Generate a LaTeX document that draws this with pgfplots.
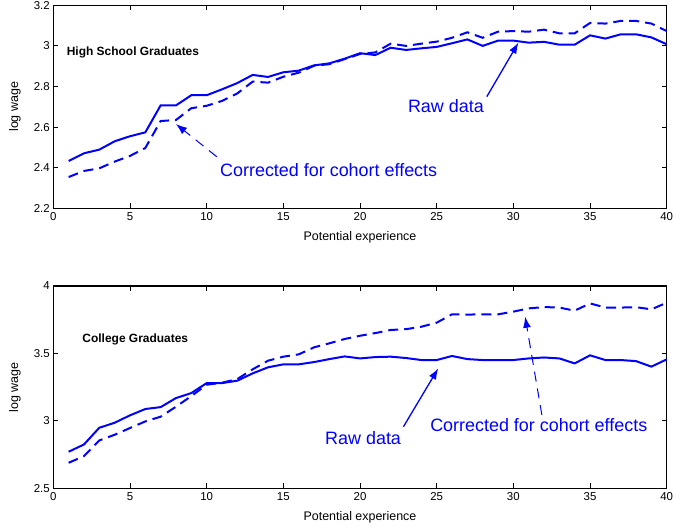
\documentclass[border=0pt]{standalone}
\usepackage{pgfplots}
\pgfplotsset{compat=1.18}
\usepackage{fontspec}
\setmainfont{Liberation Sans}
\usetikzlibrary{arrows.meta}
\definecolor{mblue}{RGB}{0,0,255}

\pgfplotstableread{
x raw corr
1 2.433 2.354
2 2.471 2.384
3 2.489 2.397
4 2.530 2.430
5 2.555 2.458
6 2.574 2.497
7 2.707 2.630
8 2.707 2.635
9 2.757 2.693
10 2.757 2.705
11 2.786 2.729
12 2.817 2.766
13 2.857 2.824
14 2.847 2.819
15 2.870 2.848
16 2.878 2.868
17 2.904 2.902
18 2.914 2.910
19 2.937 2.935
20 2.964 2.960
21 2.955 2.968
22 2.991 3.011
23 2.980 3.000
24 2.988 3.011
25 2.995 3.021
26 3.013 3.040
27 3.032 3.067
28 3.000 3.040
29 3.026 3.070
30 3.026 3.073
31 3.016 3.070
32 3.020 3.080
33 3.006 3.062
34 3.006 3.062
35 3.052 3.113
36 3.036 3.110
37 3.057 3.123
38 3.057 3.123
39 3.042 3.110
40 3.008 3.073
}\hs

\pgfplotstableread{
x raw corr
1 2.771 2.689
2 2.825 2.739
3 2.949 2.855
4 2.986 2.897
5 3.041 2.947
6 3.088 2.996
7 3.102 3.031
8 3.169 3.105
9 3.206 3.184
10 3.280 3.268
11 3.280 3.283
12 3.298 3.310
13 3.352 3.382
14 3.397 3.446
15 3.419 3.476
16 3.419 3.493
17 3.436 3.545
18 3.458 3.575
19 3.478 3.607
20 3.463 3.631
21 3.473 3.651
22 3.476 3.674
23 3.466 3.680
24 3.451 3.698
25 3.451 3.728
26 3.481 3.790
27 3.458 3.788
28 3.451 3.790
29 3.451 3.790
30 3.451 3.810
31 3.463 3.834
32 3.470 3.844
33 3.463 3.840
34 3.426 3.817
35 3.486 3.871
36 3.451 3.840
37 3.451 3.840
38 3.443 3.843
39 3.402 3.827
40 3.456 3.876
}\col

\tikzset{
  rawline/.style={mblue, line width=2bp},
  corrline/.style={mblue, line width=2bp, dash pattern=on 10bp off 6bp},
  anno/.style={font=\fontsize{18}{20}\selectfont, text=mblue, inner sep=0pt},
  ttl/.style={font=\fontsize{12}{14}\selectfont\bfseries, text=black, inner sep=0pt},
  arr/.style={mblue, line width=1.3bp, -{Latex[length=11bp,width=8bp]}},
  darr/.style={mblue, line width=1bp, dash pattern=on 10bp off 7bp, -{Latex[length=11bp,width=8bp]}},
}

\pgfplotsset{
  myaxis/.style={
    scale only axis,
    width=613.4bp,
    xmin=0, xmax=40,
    xtick={0,5,...,40},
    tick align=inside,
    tick pos=both,
    major tick length=5bp,
    axis line style={line width=1.1bp},
    every tick/.style={black, line width=0.8bp},
    /pgf/number format/assume math mode=true,
    tick label style={font=\fontsize{11.5}{13}\selectfont},
    xlabel={Potential experience},
    ylabel={log wage},
    every axis x label/.style={at={(axis description cs:0.5,0)}, anchor=base, yshift=-32.4bp, font=\fontsize{12.5}{14}\selectfont},
    every axis y label/.style={at={(axis description cs:-0.0625,0.5)}, rotate=90, anchor=center, font=\fontsize{12.5}{14}\selectfont},
    xticklabel style={yshift=-1bp},
  },
}

\begin{document}
\begin{tikzpicture}
\useasboundingbox (-53.3bp,-320.7bp) rectangle (620.7bp,208.3bp);

\begin{axis}[myaxis, at={(0,0)}, anchor=south west, height=203bp,
  ymin=2.2, ymax=3.2, ytick={2.2,2.4,...,3.2}]
\addplot[rawline] table[x=x,y=raw] {\hs};
\addplot[corrline] table[x=x,y=corr] {\hs};
\node[ttl, anchor=base west] at (axis cs:0.87,2.955) {High School Graduates};
\node[anno, anchor=base west] at (axis cs:23.12,2.671) {Raw data};
\node[anno, anchor=base west] at (axis cs:10.87,2.359) {Corrected for cohort effects};
\draw[arr] (axis cs:28.27,2.75) -- (axis cs:30.33,3.016);
\draw[darr] (axis cs:10.66,2.454) -- (axis cs:8.0,2.615);
\end{axis}

\begin{axis}[myaxis, at={(0,-280bp)}, anchor=south west, height=202.3bp,
  ymin=2.5, ymax=4, ytick={2.5,3,3.5,4}]
\addplot[rawline] table[x=x,y=raw] {\col};
\addplot[corrline] table[x=x,y=corr] {\col};
\node[ttl, anchor=base west] at (axis cs:1.89,3.579) {College Graduates};
\node[anno, anchor=base west] at (axis cs:17.72,2.828) {Raw data};
\node[anno, anchor=base west] at (axis cs:24.57,2.919) {Corrected for cohort effects};
\draw[arr] (axis cs:22.83,2.956) -- (axis cs:25.1,3.389);
\draw[darr] (axis cs:31.86,3.043) -- (axis cs:30.77,3.772);
\end{axis}
\end{tikzpicture}
\end{document}
